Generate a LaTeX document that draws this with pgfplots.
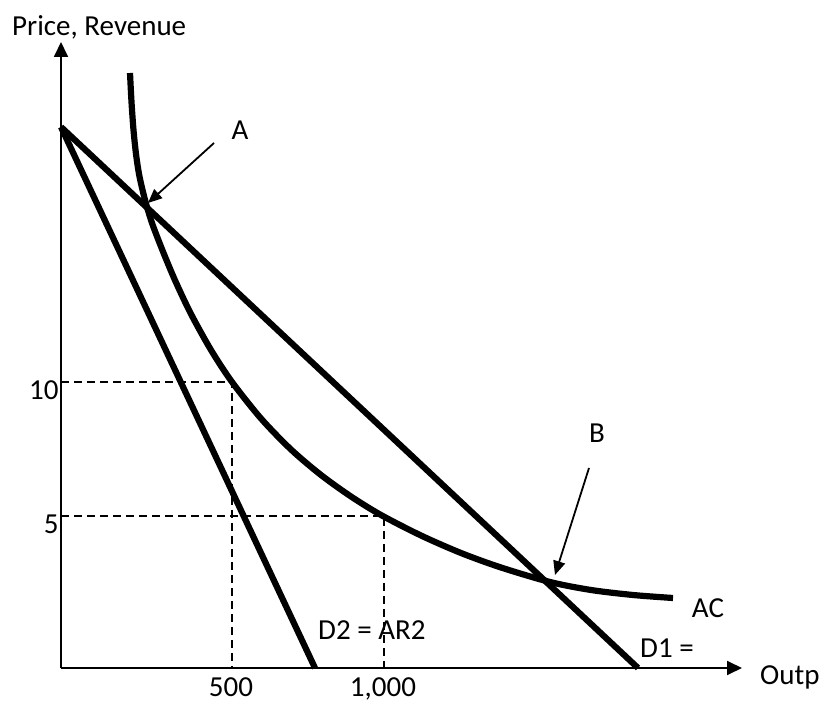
\documentclass[border=0pt]{standalone}
\usepackage{fontspec}
\setmainfont{Carlito}
\usepackage{pgfplots}
\pgfplotsset{compat=1.18}
\usetikzlibrary{arrows.meta}
\begin{document}
\begin{tikzpicture}
\begin{axis}[
  x=1pt, y=1pt, xmin=0, xmax=681, ymin=0, ymax=626,
  scale only axis,
  axis lines=left,
  axis line style={line width=1.8pt, -{Triangle[length=15pt,width=14pt]}},
  clip=false,
  xtick={170,322}, xticklabels={500,{1,000}},
  ytick={286,152}, yticklabels={10,5},
  major tick length=0pt,
  tick label style={font=\fontsize{29}{33}\selectfont},
  xticklabel style={yshift=-6pt},
  yticklabel style={yshift=-8pt, xshift=1pt},
]
% dashed guides
\addplot[black, line width=1.5pt, dash pattern=on 8pt off 5pt] coordinates {(0,286) (171,286) (171,0)};
\addplot[black, line width=1.5pt, dash pattern=on 8pt off 5pt] coordinates {(0,152) (323,152) (323,0)};
% demand lines
\addplot[black, line width=6.2pt] coordinates {(0,541) (577,0)};
\addplot[black, line width=6.2pt] coordinates {(0,541) (254,0)};
% AC curve
\addplot[black, line width=6.2pt, smooth] coordinates {
 (69,595) (70.5,566) (72.5,538) (75,514) (78,494) (82,476) (86,461) (91,445)
 (97,429) (105,409) (115,385.5) (130,354) (150,318) (171,286) (200,249.5)
 (230,218.5) (260,193) (290,171.5) (320,153) (360,132.5) (400,115) (440,100.5)
 (489,86) (530,78) (572,73) (612,70)};
% annotations
\draw[line width=1.8pt, -{Triangle[length=14pt,width=12pt]}] (axis cs:153,525) -- (axis cs:87,465);
\draw[line width=1.8pt, -{Triangle[length=14pt,width=12pt]}] (axis cs:528,200) -- (axis cs:494,93);
\node[font=\fontsize{29}{33}\selectfont] at (axis cs:179,538) {A};
\node[font=\fontsize{29}{33}\selectfont] at (axis cs:536,235) {B};
\node[font=\fontsize{29}{33}\selectfont] at (axis cs:647,60) {AC};
\node[font=\fontsize{29}{33}\selectfont, anchor=west, inner sep=0pt] at (axis cs:579,20) {D1 =};
\node[font=\fontsize{29}{33}\selectfont, anchor=west, inner sep=0pt] at (axis cs:257,38) {D2 = AR2};
\node[font=\fontsize{29}{33}\selectfont, anchor=west, inner sep=0pt] at (axis cs:699,-9) {Outp};
\node[font=\fontsize{29}{33}\selectfont, anchor=west, inner sep=0pt] at (axis cs:-49,641) {Price, Revenue};
\coordinate (bl) at (axis cs:-61,-38);
\coordinate (tr) at (axis cs:758,668);
\end{axis}
\pgfresetboundingbox
\path[use as bounding box] (bl) rectangle (tr);
\end{tikzpicture}
\end{document}
